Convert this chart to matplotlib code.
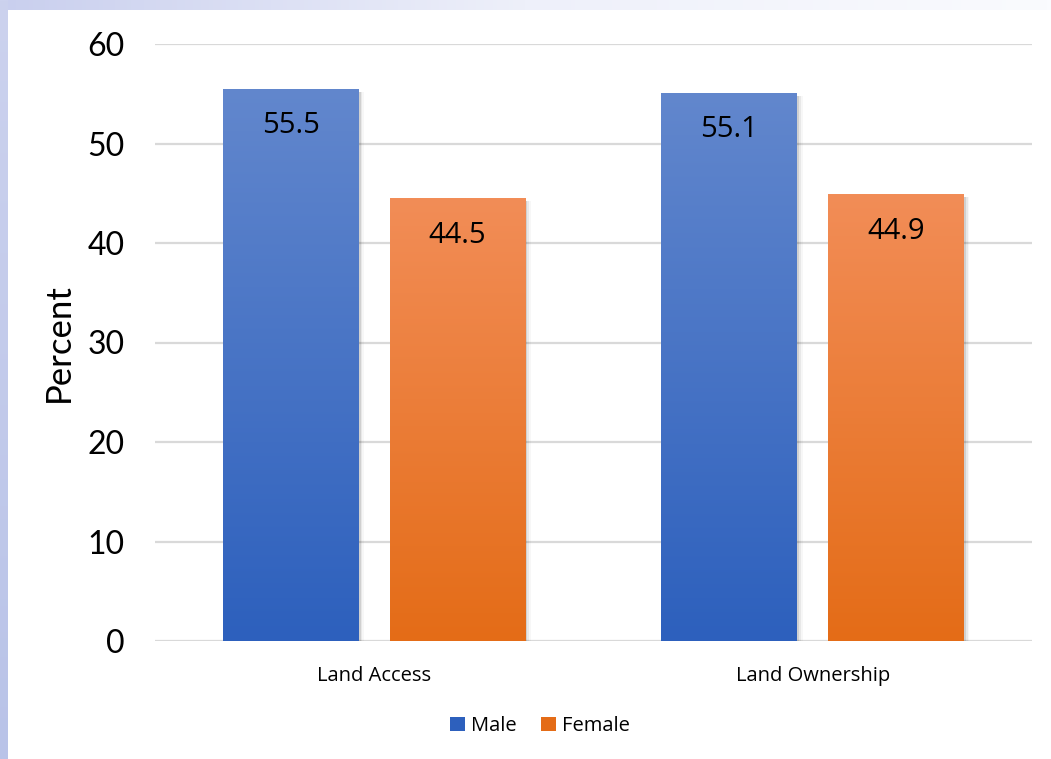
import matplotlib.pyplot as plt
import numpy as np
from matplotlib.colors import LinearSegmentedColormap
from matplotlib.patches import Rectangle

categories = ["Land Access", "Land Ownership"]
male = [55.5, 55.1]
female = [44.5, 44.9]
series_names = ["Male", "Female"]
y_ticks = [0, 10, 20, 30, 40, 50, 60]

blue_top, blue_bottom = "#6287cd", "#2d60bd"
orange_top, orange_bottom = "#f28d57", "#e46c17"

fig = plt.figure(figsize=(10.51, 7.59), dpi=100)

# slide background strips (left and top)
bg = fig.add_axes([0, 0, 1, 1], zorder=-10)
bg.set_axis_off()
bg.set_xlim(0, 1051)
bg.set_ylim(759, 0)
grad = np.linspace(0, 1, 256).reshape(1, -1)
bg.imshow(grad, extent=(0, 1051, 10, 0), aspect="auto",
          cmap=LinearSegmentedColormap.from_list("t", ["#c9cfee", "#eef0fa", "#fafbfe"]))
bg.imshow(grad.T, extent=(0, 8, 759, 0), aspect="auto",
          cmap=LinearSegmentedColormap.from_list("l", ["#ccd2ee", "#b9c3e8"]))
bg.add_patch(Rectangle((8, 10), 1043, 749, facecolor="white", edgecolor="none"))

ax = fig.add_axes([155 / 1051, 1 - 641 / 759, 877 / 1051, 597 / 759])
ax.set_facecolor("none")

x = np.arange(len(categories))
width = 0.31
offset = 0.19


def gradient_bars(xs, values, top, bottom):
    bars = ax.bar(xs, values, width, color="none", zorder=3)
    cmap = LinearSegmentedColormap.from_list("g", [bottom, top])
    for b in bars:
        x0, h = b.get_x(), b.get_height()
        # soft shadow on the right
        for i, a in enumerate([0.10, 0.06, 0.03]):
            ax.add_patch(Rectangle((x0 + 0.004 * (i + 1), 0), width, h - 0.3,
                                   facecolor="black", alpha=a, edgecolor="none", zorder=2))
        im = ax.imshow(np.linspace(0, 1, 256).reshape(-1, 1), origin="lower",
                       extent=(x0, x0 + width, 0, h), aspect="auto", cmap=cmap, zorder=3)
        im.set_clip_path(b)
    return bars


male_bars = gradient_bars(x - offset, male, blue_top, blue_bottom)
female_bars = gradient_bars(x + offset, female, orange_top, orange_bottom)

for bars, vals in [(male_bars, male), (female_bars, female)]:
    for b, v in zip(bars, vals):
        ax.text(b.get_x() + width / 2, v - 3.7, f"{v}", ha="center", va="center",
                fontsize=21, family="Open Sans", color="black", zorder=5)

ax.set_xlim(-0.5, 1.5)
ax.set_ylim(0, 60)
ax.set_yticks(y_ticks)
ax.set_yticklabels([str(t) for t in y_ticks], fontsize=23, family="Lato")
ax.set_xticks(x)
ax.set_xticklabels(categories, fontsize=14.5, family="Open Sans")
ax.tick_params(axis="both", length=0)
ax.tick_params(axis="y", pad=22)
ax.tick_params(axis="x", pad=18)
ax.set_ylabel("Percent", fontsize=25, family="Lato", labelpad=9)
ax.grid(axis="y", color="#d9d9d9", linewidth=1.6, zorder=0)
ax.set_axisbelow(True)
for s in ax.spines.values():
    s.set_visible(False)

handles = [Rectangle((0, 0), 1, 1, facecolor=blue_bottom),
           Rectangle((0, 0), 1, 1, facecolor=orange_bottom)]
fig.legend(handles, series_names, loc="center", bbox_to_anchor=(540 / 1051, 1 - 726 / 759),
           ncol=2, frameon=False, prop={"family": "Open Sans", "size": 14.5},
           handlelength=0.75, handleheight=0.75, handletextpad=0.3, columnspacing=1.2)

fig.savefig("out.png", dpi=100)
